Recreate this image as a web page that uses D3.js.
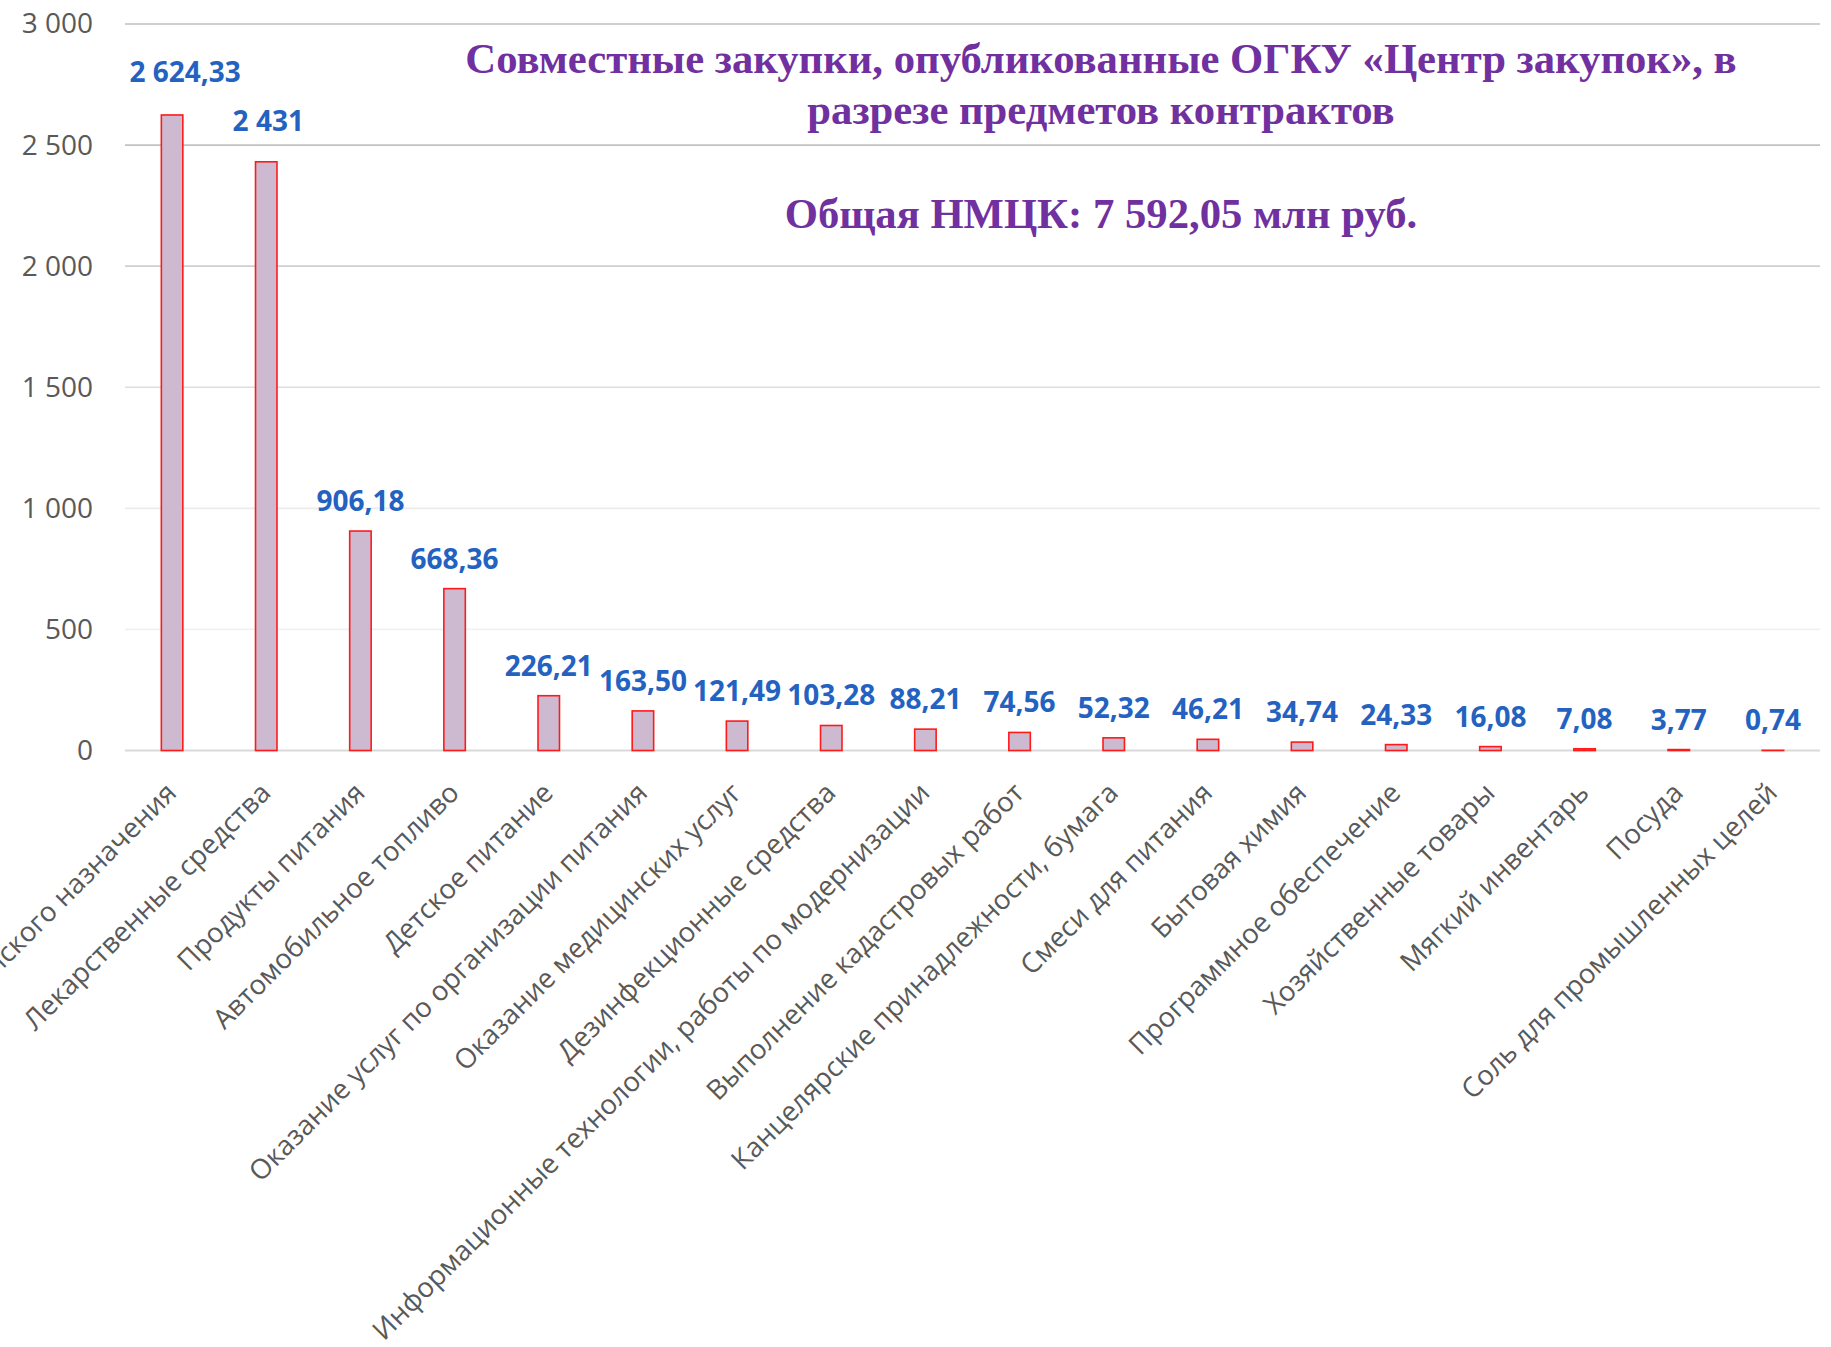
<!DOCTYPE html>
<html>
<head>
<meta charset="utf-8">
<script src="https://cdn.jsdelivr.net/npm/d3@7"></script>
<style>
  html, body { margin: 0; padding: 0; background: #ffffff; }
  svg { display: block; }
</style>
</head>
<body>
<div id="chart"></div>
<script>
// ---- Data ----
const categories = [
  "Изделия медицинского назначения",
  "Лекарственные средства",
  "Продукты питания",
  "Автомобильное топливо",
  "Детское питание",
  "Оказание услуг по организации питания",
  "Оказание медицинских услуг",
  "Дезинфекционные средства",
  "Информационные технологии, работы по модернизации",
  "Выполнение кадастровых работ",
  "Канцелярские принадлежности, бумага",
  "Смеси для питания",
  "Бытовая химия",
  "Программное обеспечение",
  "Хозяйственные товары",
  "Мягкий инвентарь",
  "Посуда",
  "Соль для промышленных целей"
];
const values = [2624.33, 2431, 906.18, 668.36, 226.21, 163.50, 121.49, 103.28, 88.21, 74.56, 52.32, 46.21, 34.74, 24.33, 16.08, 7.08, 3.77, 0.74];
const yTicks = [0, 500, 1000, 1500, 2000, 2500, 3000];
const titleLines = [
  "Совместные закупки, опубликованные ОГКУ «Центр закупок», в",
  "разрезе предметов контрактов"
];
const subtitle = "Общая НМЦК: 7 592,05 млн руб.";

// ---- Styling (not data) ----
const W = 1831, H = 1347;
const plot = { left: 125, right: 1820, top: 24, bottom: 750.5 };
const gridColors = ["#d9d9d9", "#f1f1f1", "#ebebeb", "#dedede", "#cfcfcf", "#c2c2c2", "#bfbfbf"];
const labelNudgeX = [13, 2];   // first labels moved manually in the original
const labelNudgeY = [-13, -11];

const loc = d3.formatLocale({ decimal: ",", thousands: " ", grouping: [3], currency: ["", ""] });
const fmtInt = loc.format(",d");
const fmtDec = loc.format(",.2f");
const fmtVal = v => Number.isInteger(v) ? fmtInt(v) : fmtDec(v);

const svg = d3.select("#chart").append("svg")
  .attr("width", W).attr("height", H)
  .attr("viewBox", `0 0 ${W} ${H}`);

const x = d3.scaleBand()
  .domain(categories)
  .range([plot.left, plot.right])
  .paddingInner(0.772)
  .paddingOuter(0.386);

const y = d3.scaleLinear().domain([0, 3000]).range([plot.bottom, plot.top]);

// gridlines
svg.append("g").selectAll("line")
  .data(yTicks)
  .join("line")
  .attr("x1", plot.left).attr("x2", plot.right)
  .attr("y1", d => y(d)).attr("y2", d => y(d))
  .attr("stroke", (d, i) => gridColors[i])
  .attr("stroke-width", d => d === 0 ? 2 : 1.6);

// y axis labels
const yAxis = d3.axisLeft(y).tickValues(yTicks).tickFormat(fmtInt).tickSize(0).tickPadding(0);
const yg = svg.append("g").attr("transform", `translate(93,0)`).call(yAxis);
yg.select(".domain").remove();
yg.selectAll("text")
  .attr("fill", "#595959")
  .style("font-family", "'Open Sans', sans-serif")
  .style("font-size", "28px");

// bars
svg.append("g").selectAll("rect")
  .data(values)
  .join("rect")
  .attr("x", (d, i) => x(categories[i]))
  .attr("width", x.bandwidth())
  .attr("y", d => y(d))
  .attr("height", d => Math.max(0, y(0) - y(d)))
  .attr("fill", "#cdb9d0")
  .attr("stroke", "#ff1a1a")
  .attr("stroke-width", 1.6);

// value labels
svg.append("g").selectAll("text")
  .data(values)
  .join("text")
  .attr("x", (d, i) => x(categories[i]) + x.bandwidth() / 2 + (labelNudgeX[i] || 0))
  .attr("y", (d, i) => y(d) - 20 + (labelNudgeY[i] || 0))
  .attr("text-anchor", "middle")
  .attr("fill", "#2462c1")
  .style("font-family", "'Open Sans', sans-serif")
  .style("font-weight", "700")
  .style("font-size", "28px")
  .text(d => fmtVal(d));

// x axis category labels
const xAxis = d3.axisBottom(x).tickSize(0).tickPadding(0);
const xg = svg.append("g").attr("transform", `translate(0,${plot.bottom})`).call(xAxis);
xg.select(".domain").remove();
xg.selectAll(".tick text")
  .attr("y", 0).attr("dy", 0)
  .attr("text-anchor", "end")
  .attr("transform", "translate(6,44) rotate(-45)")
  .attr("fill", "#595959")
  .style("font-family", "'Open Sans', sans-serif")
  .style("font-size", "27.5px");

// title
const tg = svg.append("g")
  .attr("fill", "#7030a0")
  .style("font-family", "'Liberation Serif', 'Times New Roman', serif")
  .style("font-weight", "700")
  .attr("text-anchor", "middle");
tg.selectAll("text.t")
  .data(titleLines)
  .join("text")
  .attr("class", "t")
  .attr("x", 1101)
  .attr("y", (d, i) => 73 + i * 51)
  .style("font-size", "42.7px")
  .text(d => d);
tg.append("text")
  .attr("x", 1101).attr("y", 228)
  .style("font-size", "42.7px")
  .text(subtitle);
</script>
</body>
</html>
